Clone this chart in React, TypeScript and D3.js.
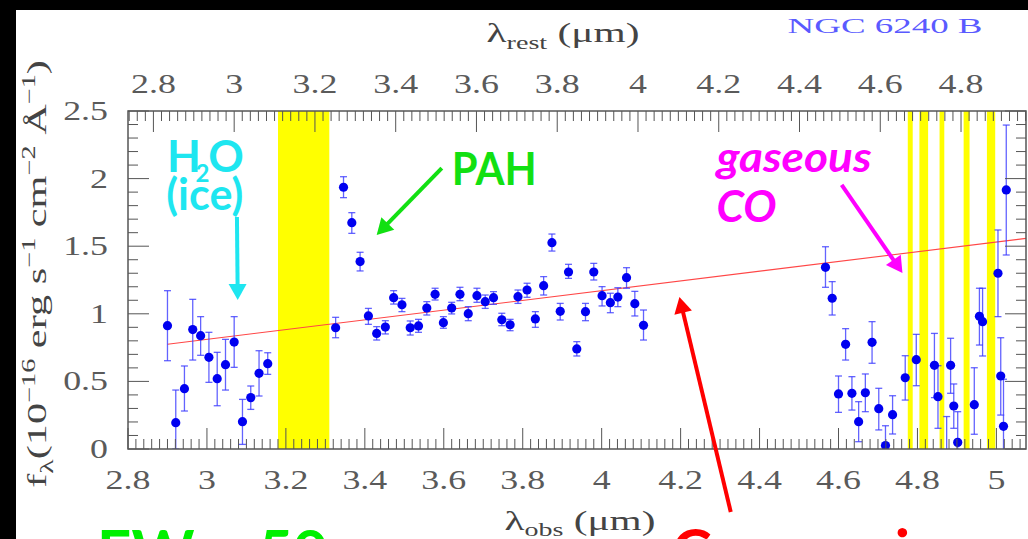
import React, { useLayoutEffect, useRef, useState } from 'react';
import * as d3 from 'd3';

// redshift used for the rest-frame (top) axis
const Z = 0.023;

// observed wavelength (um) of each spectral point
const OBS = [
  2.900, 2.921, 2.943, 2.964, 2.984, 3.005, 3.026, 3.047, 3.069, 3.090, 3.111, 3.132, 3.154,
  3.326, 3.346, 3.367, 3.388, 3.409, 3.430, 3.452, 3.473, 3.494, 3.515, 3.536, 3.557, 3.578,
  3.599, 3.620, 3.641, 3.662, 3.684, 3.705, 3.726, 3.747, 3.768, 3.788, 3.811, 3.832, 3.853,
  3.874, 3.895, 3.916, 3.937, 3.959, 3.980, 4.001, 4.022, 4.041, 4.063, 4.084, 4.106,
  4.567, 4.584, 4.600, 4.618, 4.634, 4.651, 4.668, 4.685, 4.702, 4.719, 4.737, 4.769, 4.797,
  4.843, 4.852, 4.874, 4.884, 4.892, 4.902, 4.944, 4.957, 4.965, 5.004, 5.011, 5.018, 5.025,
];
// flux density (1e-16 erg/s/cm2/A)
const FLUX = [
  0.912, 0.195, 0.446, 0.883, 0.838, 0.678, 0.520, 0.624, 0.791, 0.202, 0.380, 0.560, 0.631,
  0.897, 1.936, 1.674, 1.386, 0.984, 0.855, 0.902, 1.119, 1.067, 0.897, 0.910, 1.043, 1.144,
  0.934, 1.043, 1.144, 1.001, 1.134, 1.090, 1.119, 0.956, 0.919, 1.127, 1.176, 0.962, 1.208,
  1.526, 1.018, 1.309, 0.740, 1.016, 1.309, 1.134, 1.082, 1.124, 1.267, 1.075, 0.915,
  1.344, 1.115, 0.407, 0.774, 0.412, 0.202, 0.416, 0.789, 0.298, 0.025, 0.254, 0.527, 0.661,
  0.619, 0.387, -0.080, 0.619, 0.318, 0.049, 0.328, 0.981, 0.942, 1.300, 0.540, 0.168, 1.916,
];
const FLUX_HI = [
  1.171, 0.436, 0.614, 1.107, 0.979, 0.863, 0.715, 0.811, 0.979, 0.367, 0.466, 0.727, 0.712,
  0.974, 2.014, 1.748, 1.455, 1.040, 0.905, 0.949, 1.171, 1.114, 0.947, 0.959, 1.090, 1.189,
  0.979, 1.085, 1.196, 1.053, 1.189, 1.139, 1.164, 1.004, 0.959, 1.176, 1.226, 1.016, 1.275,
  1.590, 1.077, 1.366, 0.794, 1.077, 1.373, 1.201, 1.152, 1.193, 1.341, 1.166, 1.028,
  1.496, 1.238, 0.540, 0.890, 0.535, 0.350, 0.555, 0.942, 0.449, 0.172, 0.394, 0.690, 0.848,
  0.855, 0.616, 0.240, 0.819, 0.481, 0.276, 0.601, 1.189, 1.189, 1.620, 0.823, 0.516, 2.396,
];
const FLUX_LO = [
  0.653, 0.000, 0.281, 0.658, 0.693, 0.493, 0.320, 0.436, 0.604, 0.034, 0.293, 0.392, 0.552,
  0.823, 1.859, 1.595, 1.317, 0.922, 0.806, 0.851, 1.072, 1.016, 0.843, 0.863, 0.991, 1.102,
  0.893, 0.999, 1.097, 0.949, 1.085, 1.040, 1.070, 0.912, 0.875, 1.077, 1.122, 0.900, 1.139,
  1.464, 0.954, 1.262, 0.688, 0.949, 1.250, 1.058, 1.008, 1.053, 1.189, 0.984, 0.806,
  1.196, 0.991, 0.271, 0.658, 0.288, 0.054, 0.276, 0.634, 0.141, -0.120, 0.111, 0.362, 0.468,
  0.380, 0.153, -0.400, 0.412, 0.153, -0.180, 0.109, 0.769, 0.688, 0.979, 0.251, -0.180, 1.435,
];

// masked (telluric / line) wavelength bands
const BAND_LO = [3.18, 4.7755, 4.805, 4.856, 4.917, 4.976];
const BAND_HI = [3.31, 4.788, 4.827, 4.868, 4.932, 4.997];

// continuum fit
const CONT_X = [2.9, 5.075];
const CONT_Y = [0.775, 1.558];

const OBS_TICKS = [2.8, 3, 3.2, 3.4, 3.6, 3.8, 4, 4.2, 4.4, 4.6, 4.8, 5];
const REST_TICKS = [2.8, 3, 3.2, 3.4, 3.6, 3.8, 4, 4.2, 4.4, 4.6, 4.8];
const FLUX_TICKS = [0, 0.5, 1, 1.5, 2, 2.5];

const W = 1028;
const H = 539;
const M = { left: 128, right: 1026, top: 111, bottom: 449 };

const SERIF = "'Liberation Serif', 'DejaVu Serif', serif";
const HAND = "Lato, 'Open Sans', sans-serif";
const SX = 1.33; // the slide is stretched horizontally

function FitText({ x, y, width, rotate = 0, anchor = 'middle', children, ...rest }: any) {
  const ref = useRef<SVGTextElement>(null);
  const [sx, setSx] = useState(1);
  useLayoutEffect(() => {
    if (!ref.current) return;
    const w = ref.current.getBBox().width;
    if (w > 0) setSx(width / w);
  }, [width]);
  return (
    <g transform={`translate(${x},${y}) rotate(${rotate}) scale(${sx},1)`}>
      <text ref={ref} textAnchor={anchor} {...rest}>{children}</text>
    </g>
  );
}

function Arrow({ x1, y1, x2, y2, color, width = 4, head = 16, headW = 18 }: any) {
  const dx = x2 - x1, dy = y2 - y1;
  const len = Math.sqrt(dx * dx + dy * dy);
  const ux = dx / len, uy = dy / len;
  const bx = x2 - ux * head, by = y2 - uy * head;
  const px = -uy * headW / 2, py = ux * headW / 2;
  return (
    <g>
      <line x1={x1} y1={y1} x2={bx + ux * 2} y2={by + uy * 2} stroke={color} strokeWidth={width} />
      <polygon points={`${x2},${y2} ${bx + px},${by + py} ${bx - px},${by - py}`} fill={color} />
    </g>
  );
}

export default function App() {
  const x = d3.scaleLinear().domain([2.8, 5.075]).range([M.left, M.right]);
  const xRest = d3.scaleLinear().domain(x.domain().map(d => d / (1 + Z))).range(x.range());
  const y = d3.scaleLinear().domain([0, 2.5]).range([M.bottom, M.top]);

  const [r0, r1] = xRest.domain();
  const obsMinor = d3.range(140, Math.floor(5.075 / 0.02) + 1).map(i => ({ v: i * 0.02, major: i % 10 === 0 }));
  const restMinor = d3.range(Math.ceil(r0 / 0.02), Math.floor(r1 / 0.02) + 1).map(i => ({ v: i * 0.02, major: i % 10 === 0 }));
  const yMinor = d3.range(0, 26).map(i => ({ v: i * 0.1, major: i % 5 === 0 }));

  const cont = d3.line<number>().x((d, i) => x(CONT_X[i])).y(d => y(d))(CONT_Y);

  const tickColor = '#555';
  const minorLen = 10;
  const majorLen = 21;

  return (
    <svg width={W} height={H} style={{ position: 'absolute', left: 0, top: 0, display: 'block' }}>
      <defs>
        <clipPath id="plot">
          <rect x={M.left} y={M.top} width={M.right - M.left} height={M.bottom - M.top} />
        </clipPath>
      </defs>
      <rect x={0} y={0} width={W} height={H} fill="#fff" />
      <rect x={0} y={0} width={W} height={10} fill="#000" />
      <rect x={0} y={0} width={16} height={H} fill="#000" />

      <g clipPath="url(#plot)">
        {BAND_LO.map((lo, i) => (
          <rect key={i} x={x(lo)} y={M.top} width={x(BAND_HI[i]) - x(lo)} height={M.bottom - M.top} fill="#ffff00" />
        ))}
        <path d={cont || ''} stroke="#ff4646" strokeWidth={1.1} fill="none" />
        <g stroke="#3c3cff" strokeOpacity={0.8} strokeWidth={1.3}>
          {OBS.map((o, i) => (
            <g key={i}>
              <line x1={x(o)} x2={x(o)} y1={y(FLUX_HI[i])} y2={y(FLUX_LO[i])} />
              <line x1={x(o) - 3.5} x2={x(o) + 3.5} y1={y(FLUX_HI[i])} y2={y(FLUX_HI[i])} />
              <line x1={x(o) - 3.5} x2={x(o) + 3.5} y1={y(FLUX_LO[i])} y2={y(FLUX_LO[i])} />
            </g>
          ))}
        </g>
        {OBS.map((o, i) => (
          <circle key={i} cx={x(o)} cy={y(FLUX[i])} r={4.6} fill="#0000f0" />
        ))}
      </g>

      {/* frame and ticks */}
      <g stroke={tickColor} strokeWidth={1}>
        {obsMinor.map((t, i) => (
          <line key={i} x1={x(t.v)} x2={x(t.v)} y1={M.bottom} y2={M.bottom - (t.major ? majorLen : minorLen)} />
        ))}
        {restMinor.map((t, i) => (
          <line key={i} x1={xRest(t.v)} x2={xRest(t.v)} y1={M.top} y2={M.top + (t.major ? majorLen : minorLen)} />
        ))}
        {yMinor.map((t, i) => (
          <g key={i}>
            <line x1={M.left} x2={M.left + (t.major ? majorLen : minorLen)} y1={y(t.v)} y2={y(t.v)} />
            <line x1={M.right} x2={M.right - (t.major ? majorLen : minorLen)} y1={y(t.v)} y2={y(t.v)} />
          </g>
        ))}
        <rect x={M.left} y={M.top} width={M.right - M.left} height={M.bottom - M.top} fill="none" strokeWidth={1.5} />
      </g>

      {/* tick labels */}
      <g fontFamily={SERIF} fontWeight="normal" fontSize={27} fill="#5a5a5a">
        {OBS_TICKS.map(t => (
          <text key={t} transform={`translate(${x(t)},${489}) scale(${SX},1)`} textAnchor="middle">{String(t)}</text>
        ))}
        {REST_TICKS.map(t => (
          <text key={t} transform={`translate(${xRest(t)},${93}) scale(${SX},1)`} textAnchor="middle">{String(t)}</text>
        ))}
        {FLUX_TICKS.map(t => (
          <text key={t} transform={`translate(${108},${y(t) + 9}) scale(${SX},1)`} textAnchor="end">{String(t)}</text>
        ))}
      </g>

      {/* axis titles */}
      <FitText x={563} y={42} width={153} fontFamily={SERIF} fontSize={28} fill="#444">
        <tspan>λ</tspan>
        <tspan dy={7} fontSize={19}>rest</tspan>
        <tspan dy={-7}>{'  (μm)'}</tspan>
      </FitText>
      <FitText x={580} y={530} width={151} fontFamily={SERIF} fontSize={28} fill="#444">
        <tspan>λ</tspan>
        <tspan dy={6} fontSize={19}>obs</tspan>
        <tspan dy={-6}>{'  (μm)'}</tspan>
      </FitText>
      <FitText x={46} y={274} width={428} rotate={-90} fontFamily={SERIF} fontSize={27} fill="#444">
        <tspan>f</tspan>
        <tspan dy={7} fontSize={19}>λ</tspan>
        <tspan dy={-7}>(10</tspan>
        <tspan dy={-11} fontSize={18}>−16</tspan>
        <tspan dy={11}> erg s</tspan>
        <tspan dy={-11} fontSize={18}>−1</tspan>
        <tspan dy={11}> cm</tspan>
        <tspan dy={-11} fontSize={18}>−2</tspan>
        <tspan dy={11}> Å</tspan>
        <tspan dy={-11} fontSize={18}>−1</tspan>
        <tspan dy={11}>)</tspan>
      </FitText>
      <FitText x={885} y={33} width={195} fontFamily={SERIF} fontSize={22} fill="#5a5aff">
        NGC 6240 B
      </FitText>

      {/* annotations */}
      <g fontFamily={HAND} fontWeight="bold">
        <text x={x(2.899)} y={y(2.049)} fontSize={44} fill="#1ee6f0">H</text>
        <text x={x(2.971)} y={y(1.975)} fontSize={24} fill="#1ee6f0">2</text>
        <text x={x(3.003)} y={y(2.049)} fontSize={44} fill="#1ee6f0">O</text>
        <text x={x(2.897)} y={y(1.768)} fontSize={44} fill="#1ee6f0" textLength={77} lengthAdjust="spacingAndGlyphs">(ice)</text>
        <text x={x(3.62)} y={y(1.953)} fontSize={46} fill="#12e012" textLength={85} lengthAdjust="spacingAndGlyphs">PAH</text>
        <text x={x(4.291)} y={y(2.049)} fontSize={42} fontStyle="italic" fill="#ff00ff" textLength={155} lengthAdjust="spacingAndGlyphs">gaseous</text>
        <text x={x(4.291)} y={y(1.679)} fontSize={44} fontStyle="italic" fill="#ff00ff" textLength={60} lengthAdjust="spacingAndGlyphs">CO</text>
      </g>
      <Arrow x1={x(3.076)} y1={y(1.716)} x2={x(3.078)} y2={y(1.102)} color="#1ee6f0" />
      <Arrow x1={x(3.595)} y1={y(2.078)} x2={x(3.43)} y2={y(1.583)} color="#12e012" />
      <Arrow x1={x(4.608)} y1={y(1.953)} x2={x(4.762)} y2={y(1.302)} color="#ff00ff" />
      <Arrow x1={x(4.327)} y1={y(-0.466)} x2={x(4.197)} y2={y(1.124)} color="#ff0000" />

      {/* slide text below the plot (cut off at the bottom edge, as in the source) */}
      <g fontFamily={HAND} fontWeight="bold" fontSize={60}>
        <text x={97} y={573} fill="#00f000">EW ~ 50</text>
        <text x={672} y={572} fill="#ff0000" letterSpacing={2}>Comparison</text>
      </g>
    </svg>
  );
}
